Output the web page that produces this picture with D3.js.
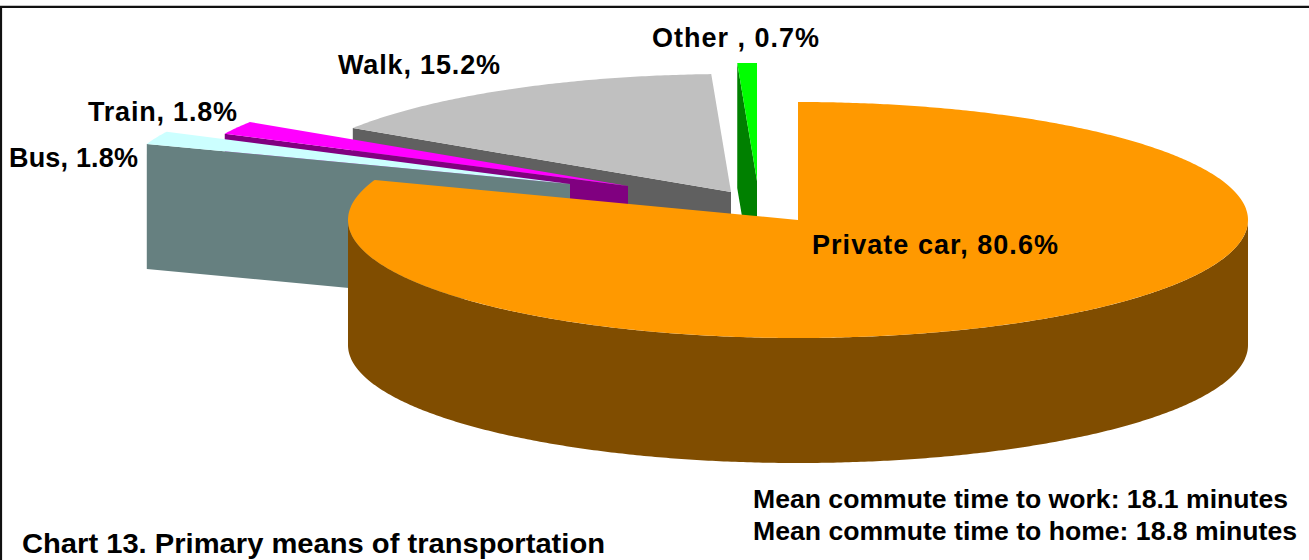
<!DOCTYPE html>
<html>
<head>
<meta charset="utf-8">
<script src="https://cdn.jsdelivr.net/npm/d3@7"></script>
<style>
  html, body { margin: 0; padding: 0; background: #fff; }
  svg { display: block; }
</style>
</head>
<body>
<script>
// ---- data ----
const categories = ["Private car", "Bus", "Train", "Walk", "Other"];
const shares = [80.6, 1.8, 1.8, 15.2, 0.7];
const sliceLabels = ["Private car, 80.6%", "Bus, 1.8%", "Train, 1.8%", "Walk, 15.2%", "Other , 0.7%"];
const title = "Chart 13. Primary means of transportation";
const notes = ["Mean commute time to work: 18.1 minutes", "Mean commute time to home: 18.8 minutes"];

// ---- styling ----
const topColors  = ["#FF9900", "#CCFFFF", "#FF00FF", "#C0C0C0", "#00FF00"];
const sideColors = ["#804D00", "#668080", "#800080", "#606060", "#008000"];
// pixel offsets of the pulled-out slices
const explode = [[0, 0], [-228, -36], [-170, -34], [-67, -28], [-41, -39]];
// back-to-front painting order (indices into categories)
const drawOrder = [3, 4, 2, 1, 0];
// label anchor x, baseline y, rendered width
const labelPos = [[812, 254, 246], [9, 167, 129], [88, 121, 149], [338, 74, 162], [652, 47, 167]];

const W = 1309, H = 560;
const cx = 798, cy = 220, rx = 450, ry = 118, depth = 125;

const svg = d3.select("body").append("svg")
  .attr("width", W).attr("height", H)
  .style("font-family", "'Liberation Sans', Arial, sans-serif");

// unit-circle -> screen projection of the tilted pie
const px = d3.scaleLinear().domain([-1, 1]).range([cx - rx, cx + rx]);
const py = d3.scaleLinear().domain([-1, 1]).range([cy - ry, cy + ry]);

const pie = d3.pie().sort(null).value(d => d).startAngle(0).endAngle(2 * Math.PI);
const arcs = pie(shares);
const line = d3.line();

const rim = (a, dx, dy, h) => [px(Math.sin(a)) + dx, py(-Math.cos(a)) + dy + h];
const hub = (dx, dy, h) => [px(0) + dx, py(0) + dy + h];
function rimPts(a0, a1, dx, dy, h) {
  const n = Math.max(2, Math.ceil((a1 - a0) / (Math.PI / 360)));
  return d3.range(n + 1).map(i => rim(a0 + (a1 - a0) * i / n, dx, dy, h));
}
const poly = pts => line(pts) + "Z";

const slices = svg.append("g").attr("class", "slices");

drawOrder.forEach(i => {
  const a0 = arcs[i].startAngle, a1 = arcs[i].endAngle;
  const [dx, dy] = explode[i];
  const g = slices.append("g").attr("class", "slice").attr("data-name", categories[i]);

  // radial wall at the start angle
  if (Math.sin(a0) < -1e-6) {
    g.append("path").attr("fill", sideColors[i])
      .attr("d", poly([hub(dx, dy, 0), rim(a0, dx, dy, 0), rim(a0, dx, dy, depth), hub(dx, dy, depth)]));
  }
  // radial wall at the end angle
  if (Math.sin(a1) > 1e-6) {
    g.append("path").attr("fill", sideColors[i])
      .attr("d", poly([hub(dx, dy, 0), rim(a1, dx, dy, 0), rim(a1, dx, dy, depth), hub(dx, dy, depth)]));
  }
  // curved outer wall (front half only)
  const s0 = Math.max(a0, Math.PI / 2), s1 = Math.min(a1, 3 * Math.PI / 2);
  if (s1 > s0) {
    const upper = rimPts(s0, s1, dx, dy, 0);
    const lower = rimPts(s0, s1, dx, dy, depth).reverse();
    g.append("path").attr("fill", sideColors[i]).attr("d", poly(upper.concat(lower)));
  }
  // top face
  g.append("path").attr("fill", topColors[i])
    .attr("d", poly([hub(dx, dy, 0)].concat(rimPts(a0, a1, dx, dy, 0))));
});

// slice labels
svg.append("g").attr("class", "labels")
  .selectAll("text").data(sliceLabels).join("text")
  .attr("x", (d, i) => labelPos[i][0])
  .attr("y", (d, i) => labelPos[i][1])
  .attr("textLength", (d, i) => labelPos[i][2])
  .attr("lengthAdjust", "spacing")
  .attr("font-size", 27)
  .attr("font-weight", "bold")
  .attr("fill", "#000")
  .text(d => d);

// commute notes
svg.append("g").attr("class", "notes")
  .selectAll("text").data(notes).join("text")
  .attr("x", 753)
  .attr("y", (d, i) => 508 + i * 32)
  .attr("textLength", (d, i) => [535, 544][i])
  .attr("lengthAdjust", "spacingAndGlyphs")
  .attr("font-size", 26)
  .attr("font-weight", "bold")
  .text(d => d);

// chart title
svg.append("text")
  .attr("x", 22).attr("y", 553)
  .attr("textLength", 583)
  .attr("lengthAdjust", "spacingAndGlyphs")
  .style("font-family", "'Liberation Sans Narrow', 'Arial Narrow', 'Liberation Sans', sans-serif")
  .attr("font-size", 28)
  .attr("font-weight", "bold")
  .text(title);

// frame
svg.append("path")
  .attr("d", "M1,561V6.8H1310")
  .attr("fill", "none")
  .attr("stroke", "#111")
  .attr("stroke-width", 2.2);
</script>
</body>
</html>
